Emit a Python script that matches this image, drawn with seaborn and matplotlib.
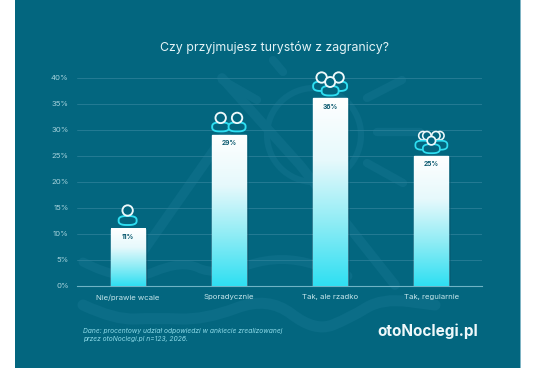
import numpy as np
import pandas as pd
import matplotlib
matplotlib.use("Agg")
import matplotlib.pyplot as plt
from matplotlib.patches import Circle, Rectangle, Polygon, PathPatch
from matplotlib.path import Path
from matplotlib.colors import LinearSegmentedColormap
import seaborn as sns

categories = ["Nie/prawie wcale", "Sporadycznie", "Tak, ale rzadko", "Tak, regularnie"]
values = [11, 29, 36, 25]
value_labels = ["11%", "29%", "36%", "25%"]
y_ticks = [0, 5, 10, 15, 20, 25, 30, 35, 40]
people_counts = [1, 2, 3, 5]
title = "Czy przyjmujesz turystów z zagranicy?"
note = "Dane: procentowy udział odpowiedzi w ankiecie zrealizowanej\nprzez otoNoclegi.pl n=123, 2026."
brand = "otoNoclegi.pl"

W, H = 536, 368
PANEL = "#03667f"
LIGHT = "#c6e6ec"
CYAN = "#2fdff2"
WM = "#0b6d87"

sns.set_theme(style="white")
plt.rcParams["font.family"] = ["Inter", "DejaVu Sans"]
fig = plt.figure(figsize=(W / 100, H / 100), dpi=100, facecolor="white")

bg = fig.add_axes([0, 0, 1, 1], zorder=0)
bg.set_xlim(0, W); bg.set_ylim(H, 0); bg.axis("off")
bg.add_patch(Rectangle((15, 0), 505, H, fc=PANEL, ec="none"))
bg.add_patch(Rectangle((520, 0), 1.2, H, fc="#7fb4c4", ec="none"))

def wm_line(xs, ys, lw=6):
    bg.plot(xs, ys, color=WM, lw=lw, solid_capstyle="round")

def wm_curve(pts, lw):
    pts = np.asarray(pts, float)
    mids = (pts[:-1] + pts[1:]) / 2
    verts = [pts[0]]
    codes = [Path.MOVETO]
    for p, m in zip(pts[1:-1], mids[1:]):
        verts += [p, m]
        codes += [Path.CURVE3, Path.CURVE3]
    verts.append(pts[-1]); codes.append(Path.LINETO)
    bg.add_patch(PathPatch(Path(verts, codes), fc="none", ec=WM, lw=lw, capstyle="round"))

bg.add_patch(Circle((314, 135), 47, fc="none", ec=WM, lw=4.5))
for x0, y0, x1, y1 in [(222, 80, 257, 100), (273, 60, 283, 72), (367, 98, 402, 80),
                       (377, 132, 420, 132), (367, 163, 403, 183)]:
    wm_line([x0, x1], [y0, y1], 6)
wm_line([130, 235], [270, 120], 7)
wm_line([222, 300, 395], [78, 165, 285], 7)
wm_curve([(83, 305), (115, 320), (155, 318), (205, 320), (268, 296), (315, 332),
          (350, 318), (382, 298), (435, 305)], 8)
wm_curve([(83, 262), (125, 284), (182, 260), (215, 276), (282, 254), (348, 276)], 6.5)

ax = fig.add_axes([77 / W, 1 - 285.7 / H, 405 / W, 208 / H], zorder=1)
ax.patch.set_alpha(0)
df = pd.DataFrame({"kategoria": categories, "udzial": values})
sns.barplot(data=df, x="kategoria", y="udzial", width=0.336, color="white",
            ax=ax, zorder=3, saturation=1)
ax.set_xlim(-0.5, 3.5)
ax.set_ylim(0, 40)
ax.set_yticks(y_ticks)
ax.set_yticklabels([f"{v}%" for v in y_ticks])
ax.set_xlabel(""); ax.set_ylabel("")
ax.tick_params(axis="both", length=0)
ax.tick_params(axis="x", labelsize=5.6, pad=6, colors=LIGHT)
ax.tick_params(axis="y", labelsize=5.6, pad=6, colors="#a7d3dd")
ax.grid(axis="y", color="#2a7f98", lw=0.6)
ax.set_axisbelow(True)
sns.despine(ax=ax, left=True, right=True, top=True, bottom=False)
ax.spines["bottom"].set_color("#6fb3c5")
ax.spines["bottom"].set_linewidth(0.8)

cmap = LinearSegmentedColormap.from_list("g", ["#ffffff", "#e6f9fc", "#8eecf5", CYAN])
grad = np.linspace(0, 1, 256).reshape(-1, 1)
for bar, lab in zip(ax.patches, value_labels):
    x, w, h = bar.get_x(), bar.get_width(), bar.get_height()
    ax.add_patch(Rectangle((x + w, 0), 0.03, h - 0.2, fc="#04566d", ec="none", alpha=0.45, zorder=2))
    im = ax.imshow(grad, extent=(x, x + w, 0, h), cmap=cmap, aspect="auto", zorder=3.5, vmin=0, vmax=1)
    im.set_clip_path(bar)
    ax.text(x + w / 2, h - 1.65, lab, ha="center", va="center", fontsize=4.8,
            fontweight="bold", color="#0c5a70", zorder=5)
ax.set_xlim(-0.5, 3.5)
ax.set_ylim(0, 40)

fg = fig.add_axes([0, 0, 1, 1], zorder=2)
fg.set_xlim(0, W); fg.set_ylim(H, 0); fg.axis("off")

def body(cx, bottom, w, h, lw=1.35):
    # rounded superellipse outline of a person's shoulders
    a = np.linspace(0, 2 * np.pi, 80)
    e = 2 / 2.8
    xs = cx + w / 2 * np.sign(np.cos(a)) * np.abs(np.cos(a)) ** e
    ys = bottom - h / 2 + h / 2 * np.sign(np.sin(a)) * np.abs(np.sin(a)) ** e
    fg.add_patch(Polygon(np.column_stack([xs, ys]), closed=True, fc=PANEL, ec=CYAN, lw=lw))

def head(cx, cy, r, lw=1.35):
    fg.add_patch(Circle((cx, cy), r, fc=PANEL, ec="#eef9fb", lw=lw))

for bar, n in zip(ax.patches, people_counts):
    cx_d = bar.get_x() + bar.get_width() / 2
    px, py = ax.transData.transform((cx_d, bar.get_height()))
    cx, top = px, H - py
    if n == 1:
        body(cx, top - 3.5, 18, 9)
        head(cx, top - 18, 5.2)
    elif n == 2:
        for dx in (-8.2, 8.2):
            body(cx + dx, top - 3.5, 17, 9)
            head(cx + dx, top - 17, 5.2)
    elif n == 3:
        for dx in (-8.5, 8.5):
            body(cx + dx, top - 7.5, 17, 9.5)
            head(cx + dx, top - 21, 5.2)
        body(cx, top - 3, 17, 9.5)
        head(cx, top - 16.5, 5)
    else:
        for dx in (-8.5, 8.5, -4.5, 4.5):
            head(cx + dx, top - 20, 4.2, 1.15)
        for dx in (-8.5, 8.5):
            body(cx + dx, top - 6, 15, 9, 1.25)
        body(cx, top - 2.5, 17, 9, 1.25)
        head(cx, top - 15, 4.2, 1.25)

fig.text(275 / W, 1 - 47 / H, title, ha="center", va="center", fontsize=8.9, color="#e4f4f7")
fig.text(83 / W, 1 - 335 / H, note, ha="left", va="center", fontsize=4.8, style="italic",
         color="#8fdcea", linespacing=1.3)
fig.text(377 / W, 1 - 331.5 / H, brand, ha="left", va="center", fontsize=11, fontweight="bold",
         color="#eef8fa")

fig.savefig("out.png", dpi=100, facecolor="white")
